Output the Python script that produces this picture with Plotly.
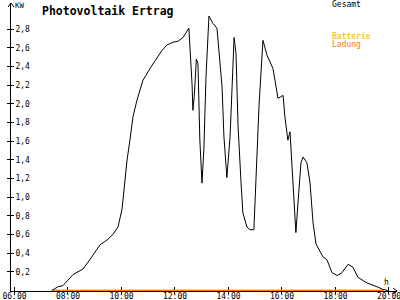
import plotly.graph_objects as go

# Time of day in decimal hours, PV output in kW
gesamt_t = [7.40, 7.63, 7.81, 8.19, 8.56, 8.82, 9.20, 9.46, 9.68, 9.87, 10.02, 10.09, 10.21,
            10.32, 10.43, 10.58, 10.80, 11.07, 11.33, 11.51, 11.70, 11.93, 12.11, 12.30, 12.52,
            12.60, 12.64, 12.67, 12.72, 12.80, 12.86, 12.93, 13.01, 13.08, 13.16, 13.27, 13.42,
            13.57, 13.64, 13.76, 13.83, 13.94, 14.06, 14.13, 14.21, 14.28, 14.36, 14.47, 14.54,
            14.69, 14.80, 14.95, 15.03, 15.10, 15.14, 15.25, 15.29, 15.44, 15.55, 15.66, 15.74,
            15.85, 15.93, 16.04, 16.11, 16.22, 16.30, 16.37, 16.45, 16.52, 16.60, 16.71, 16.79,
            16.93, 17.05, 17.16, 17.27, 17.38, 17.53, 17.68, 17.87, 18.06, 18.24, 18.47, 18.65,
            18.84, 19.18, 19.55, 19.78, 19.96]
gesamt_kw = [0.00, 0.04, 0.05, 0.17, 0.23, 0.33, 0.49, 0.54, 0.60, 0.68, 0.87, 1.08, 1.40,
             1.62, 1.86, 2.04, 2.25, 2.38, 2.49, 2.57, 2.63, 2.66, 2.67, 2.71, 2.81,
             2.45, 2.20, 1.93, 2.08, 2.48, 2.43, 1.61, 1.15, 1.51, 2.29, 2.94, 2.86,
             2.81, 2.57, 2.18, 1.65, 1.21, 1.65, 2.11, 2.71, 2.54, 1.75, 1.15, 0.83,
             0.68, 0.65, 0.65, 1.22, 1.75, 1.97, 2.50, 2.68, 2.52, 2.44, 2.38, 2.25,
             2.06, 2.07, 2.09, 1.86, 1.61, 1.70, 1.37, 0.97, 0.62, 0.94, 1.37, 1.43,
             1.37, 1.15, 0.73, 0.50, 0.44, 0.36, 0.33, 0.19, 0.16, 0.19, 0.28, 0.25,
             0.14, 0.08, 0.04, 0.01, 0.00]

batterie_t = [7.40, 19.80]
batterie_kw = [0.0, 0.0]
ladung_t = [7.40, 19.80]
ladung_kw = [0.0, 0.0]

x_ticks = [6, 8, 10, 12, 14, 16, 18, 20]
x_labels = ["06:00", "08:00", "10:00", "12:00", "14:00", "16:00", "18:00", "20:00"]
y_ticks = [0.2, 0.4, 0.6, 0.8, 1.0, 1.2, 1.4, 1.6, 1.8, 2.0, 2.2, 2.4, 2.6, 2.8]
y_labels = ["0,2", "0,4", "0,6", "0,8", "1,0", "1,2", "1,4", "1,6", "1,8", "2,0",
            "2,2", "2,4", "2,6", "2,8"]

MONO = "DejaVu Sans Mono"
X_RANGE = [5.87, 20.30]
Y_RANGE = [-0.006, 3.08]

fig = go.Figure()
fig.add_trace(go.Scatter(x=batterie_t, y=batterie_kw, mode="lines",
                         line=dict(color="#FFB000", width=1.5), name="Batterie"))
fig.add_trace(go.Scatter(x=ladung_t, y=ladung_kw, mode="lines",
                         line=dict(color="#FF8000", width=1.5), name="Ladung"))
fig.add_trace(go.Scatter(x=gesamt_t, y=gesamt_kw, mode="lines",
                         line=dict(color="black", width=1), name="Gesamt"))
# invisible trace to activate overlay axes
fig.add_trace(go.Scatter(x=[X_RANGE[0]], y=[0], xaxis="x2", yaxis="y2",
                         mode="markers", marker=dict(opacity=0), showlegend=False,
                         hoverinfo="skip"))

fig.update_layout(
    width=400, height=300, autosize=False,
    margin=dict(l=11, r=3, t=3, b=9),
    paper_bgcolor="white", plot_bgcolor="white",
    showlegend=False,
    font=dict(family=MONO, size=8, color="black"),
    xaxis=dict(range=X_RANGE, tickvals=x_ticks, ticktext=x_labels, showgrid=False,
               zeroline=False, showline=True, linecolor="black", linewidth=1,
               ticks="inside", ticklen=4, tickcolor="black", tickwidth=1,
               ticklabeloverflow="allow", layer="below traces", automargin=False,
               ticklabelstandoff=-3,
               tickfont=dict(family=MONO, size=8, color="black"), fixedrange=True),
    yaxis=dict(range=Y_RANGE, tickvals=y_ticks, ticktext=y_labels, showgrid=False,
               zeroline=False, showline=True, linecolor="black", linewidth=1,
               ticks="inside", ticklen=3, tickcolor="black", tickwidth=1,
               ticklabelposition="inside", ticklabeloverflow="allow", automargin=False,
               tickfont=dict(family=MONO, size=8, color="black"), fixedrange=True),
    xaxis2=dict(range=X_RANGE, overlaying="x", tickvals=x_ticks, showticklabels=False,
                showgrid=False, zeroline=False, showline=False, ticks="outside", ticklen=2,
                tickcolor="black", fixedrange=True, automargin=False),
    yaxis2=dict(range=Y_RANGE, overlaying="y", tickvals=y_ticks, showticklabels=False,
                showgrid=False, zeroline=False, showline=False, ticks="outside", ticklen=3,
                tickcolor="black", fixedrange=True, automargin=False),
)

# axis arrows
fig.add_shape(type="path", xref="paper", yref="paper", xsizemode="pixel", ysizemode="pixel",
              xanchor=0, yanchor=1, path="M-3,-4 L0,0 L3,-4",
              line=dict(color="black", width=1))
fig.add_shape(type="path", xref="paper", yref="paper", xsizemode="pixel", ysizemode="pixel",
              xanchor=1, yanchor=0, path="M-4,3 L0,0 L-4,-3",
              line=dict(color="black", width=1))

fig.add_annotation(text="<b>Photovoltaik Ertrag</b>", xref="paper", yref="paper",
                   x=0.075, y=0.972, xanchor="left", yanchor="middle", showarrow=False,
                   font=dict(family=MONO, size=11.5, color="black"))
fig.add_annotation(text="KW", xref="paper", yref="paper", x=0.005, y=0.99,
                   xanchor="left", yanchor="middle", showarrow=False,
                   font=dict(family=MONO, size=7.5, color="black"))
fig.add_annotation(text="Gesamt", xref="paper", yref="paper", x=0.826, y=0.995,
                   xanchor="left", yanchor="middle", showarrow=False,
                   font=dict(family=MONO, size=8, color="black"))
fig.add_annotation(text="Batterie", xref="paper", yref="paper", x=0.826, y=0.885,
                   xanchor="left", yanchor="middle", showarrow=False,
                   font=dict(family=MONO, size=8, color="#FFA800"))
fig.add_annotation(text="Ladung", xref="paper", yref="paper", x=0.826, y=0.857,
                   xanchor="left", yanchor="middle", showarrow=False,
                   font=dict(family=MONO, size=8, color="#FF7F00"))
fig.add_annotation(text="h", xref="paper", yref="paper", x=0.972, y=0.03,
                   xanchor="center", yanchor="middle", showarrow=False,
                   font=dict(family=MONO, size=8, color="black"))

fig.write_html("out.html")
